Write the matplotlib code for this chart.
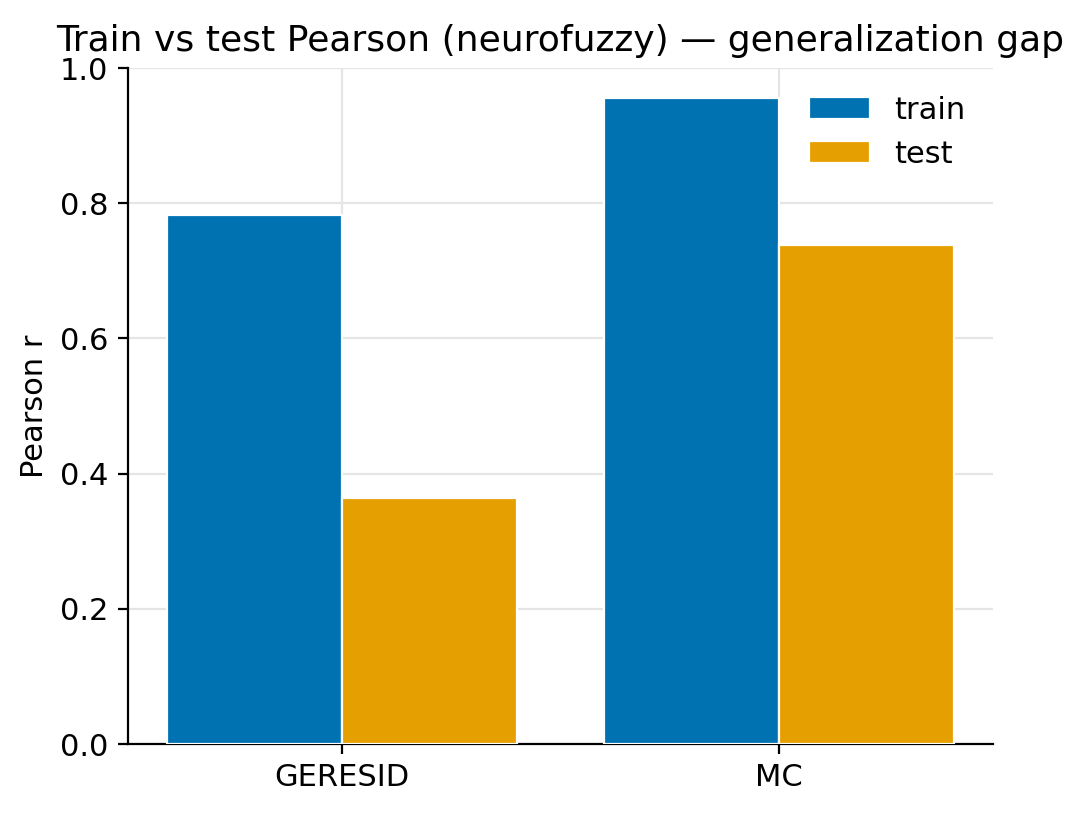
import matplotlib
matplotlib.use("Agg")
import matplotlib.pyplot as plt
import numpy as np

categories = ["GERESID", "MC"]
train = [0.782, 0.956]
test = [0.364, 0.738]

fig = plt.figure(figsize=(5.46, 4.065), dpi=200)
ax = fig.add_axes([128/1092, 1-744/813, (993-128)/1092, (744-68)/813])
x = np.arange(len(categories))
w = 0.4
ax.bar(x - w/2, train, w, color="#0072B2", edgecolor="white", linewidth=0.8, label="train", zorder=3)
ax.bar(x + w/2, test, w, color="#E69F00", edgecolor="white", linewidth=0.8, label="test", zorder=3)
ax.set_xticks(x)
ax.set_xticklabels(categories, fontsize=11)
ax.tick_params(axis="y", labelsize=11)
ax.set_ylim(0, 1.0)
ax.set_ylabel("Pearson r", fontsize=11)
ax.grid(True, color="#e5e5e5", linewidth=0.8, zorder=0)
ax.spines["top"].set_visible(False)
ax.spines["right"].set_visible(False)
ax.legend(frameon=False, fontsize=11, loc="upper right")
ax.set_title("Train vs test Pearson (neurofuzzy) — generalization gap", fontsize=13)
fig.savefig("out.png", dpi=200)
